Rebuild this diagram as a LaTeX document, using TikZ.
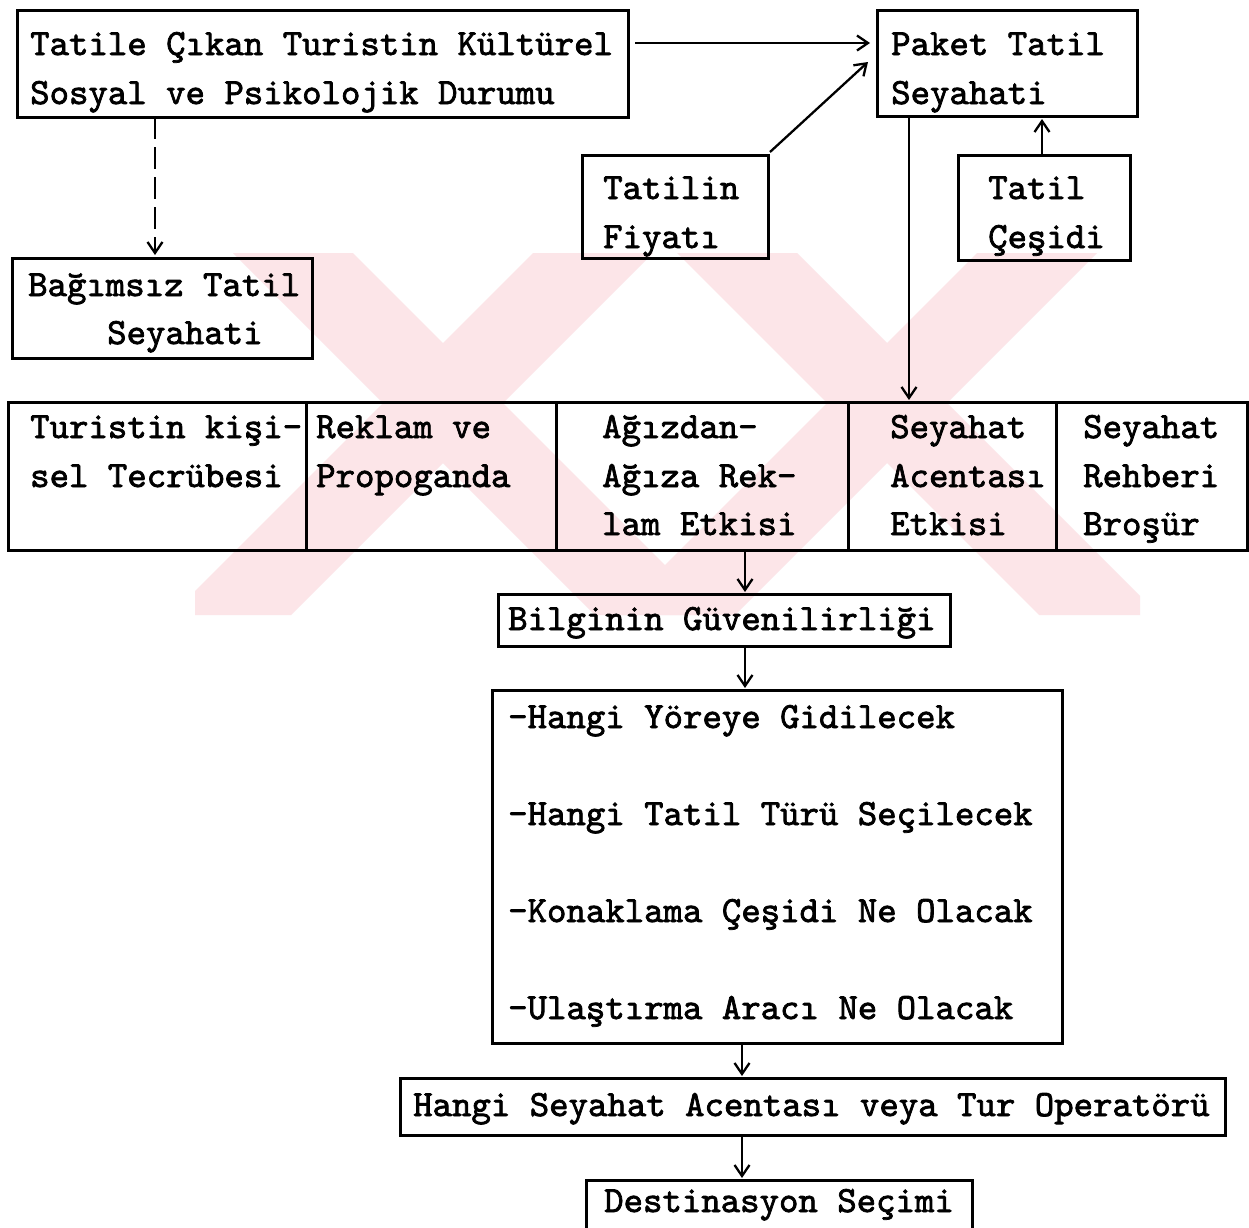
\documentclass[tikz,border=0pt]{standalone}
\usepackage{fontspec}
\newfontfamily\tw{lmmono10-regular.otf}[FakeBold=2]
\usetikzlibrary{arrows.meta}
\definecolor{wmpink}{RGB}{252,229,232}

\begin{document}
\begin{tikzpicture}[x=1pt,y=-1pt,
  box/.style={draw, line width=3pt, inner sep=0pt, outer sep=0pt, anchor=north west},
  txt/.style={anchor=base west, inner sep=0pt, font=\tw\fontsize{37}{48}\selectfont},
  arr/.style={line width=2.3pt, -{Straight Barb[length=11pt,width=15pt,line width=2.3pt]}},
  dashline/.style={arr, dash pattern=on 22pt off 8pt}
]
\clip (0,0) rectangle (1249,1227);
\fill[white] (0,0) rectangle (1249,1227);

% background mark
\begin{scope}
  \clip (195,253) rectangle (1140,615);
  \fill[wmpink] (233,253) -- (353,253) -- (715,615) -- (595,615) -- cycle;
  \fill[wmpink] (533,253) -- (653,253) -- (291,615) -- (171,615) -- cycle;
  \fill[wmpink] (677,253) -- (797,253) -- (1159,615) -- (1039,615) -- cycle;
  \fill[wmpink] (977,253) -- (1097,253) -- (735,615) -- (615,615) -- cycle;
\end{scope}

% boxes
\node[box, minimum width=611pt, minimum height=107pt] (A) at (17,10) {};
\node[box, minimum width=260pt, minimum height=106pt] (B) at (877,10) {};
\node[box, minimum width=186pt, minimum height=103pt] (C) at (582,155) {};
\node[box, minimum width=172pt, minimum height=105pt] (D) at (958,155) {};
\node[box, minimum width=300pt, minimum height=100pt] (E) at (12,258) {};
\node[box, minimum width=298pt, minimum height=148pt] (c1) at (8,402) {};
\node[box, minimum width=250pt, minimum height=148pt] (c2) at (306,402) {};
\node[box, minimum width=292pt, minimum height=148pt] (c3) at (556,402) {};
\node[box, minimum width=208pt, minimum height=148pt] (c4) at (848,402) {};
\node[box, minimum width=191pt, minimum height=148pt] (c5) at (1056,402) {};
\node[box, minimum width=452pt, minimum height=52pt] (F) at (498,594) {};
\node[box, minimum width=570pt, minimum height=353pt] (G) at (492,690) {};
\node[box, minimum width=825pt, minimum height=57pt] (H) at (400,1078) {};
\node[box, minimum width=386pt, minimum height=80pt] (I) at (586,1180) {};

% texts
\node[txt] (a1) at (30,55) {Tatile Çıkan Turistin Kültürel};
\node[txt] (a2) at (30,104) {Sosyal ve Psikolojik Durumu};
\node[txt] (b1) at (891,55) {Paket Tatil};
\node[txt] (b2) at (891,104) {Seyahati};
\node[txt] (t1) at (603,199) {Tatilin};
\node[txt] (t2) at (603,248) {Fiyatı};
\node[txt] (d1) at (988,199) {Tatil};
\node[txt] (d2) at (988,248) {Çeşidi};
\node[txt] (e1) at (28,296) {Bağımsız Tatil};
\node[txt] (e2) at (107,344) {Seyahati};
\node[txt] (r11) at (30,438) {Turistin kişi-};
\node[txt] (r12) at (30,487) {sel Tecrübesi};
\node[txt] (r21) at (316,438) {Reklam ve};
\node[txt] (r22) at (316,487) {Propoganda};
\node[txt] (r31) at (602,438) {Ağızdan-};
\node[txt] (r32) at (602,487) {Ağıza Rek-};
\node[txt] (r33) at (602,535) {lam Etkisi};
\node[txt] (r41) at (890,438) {Seyahat};
\node[txt] (r42) at (890,487) {Acentası};
\node[txt] (r43) at (890,535) {Etkisi};
\node[txt] (r51) at (1083,438) {Seyahat};
\node[txt] (r52) at (1083,487) {Rehberi};
\node[txt] (r53) at (1083,535) {Broşür};
\node[txt] (f1) at (508,630) {Bilginin Güvenilirliği};
\node[txt] (g1) at (508,728) {-Hangi Yöreye Gidilecek};
\node[txt] (g2) at (508,825) {-Hangi Tatil Türü Seçilecek};
\node[txt] (g3) at (508,922) {-Konaklama Çeşidi Ne Olacak};
\node[txt] (g4) at (508,1019) {-Ulaştırma Aracı Ne Olacak};
\node[txt] (h1) at (413,1116) {Hangi Seyahat Acentası veya Tur Operatörü};
\node[txt] (i1) at (604,1212) {Destinasyon Seçimi};

% connectors
\coordinate (xa) at (155,0);
\coordinate (xb) at (909,0);
\coordinate (xd) at (1042,0);
\coordinate (xf) at (745,0);
\coordinate (xh) at (742,0);
\draw[arr] ([xshift=7pt,yshift=-33pt]A.north east) -- ([xshift=-7pt,yshift=-33pt]B.north west);
\draw[arr] ([xshift=2pt,yshift=3pt]C.north east) -- ([xshift=-9pt,yshift=-52pt]B.north west);
\draw[arr] (xd |- D.north) -- ([yshift=-3pt]xd |- B.south);
\draw[dashline] (xa |- A.south) -- ([yshift=3pt]xa |- E.north);
\draw[arr] (xb |- B.south) -- ([yshift=2pt]xb |- c4.north);
\draw[arr] (xf |- c3.south) -- ([yshift=2pt]xf |- F.north);
\draw[arr] (xf |- F.south) -- ([yshift=2pt]xf |- G.north);
\draw[arr] (xh |- G.south) -- ([yshift=2pt]xh |- H.north);
\draw[arr] (xh |- H.south) -- ([yshift=2pt]xh |- I.north);
\end{tikzpicture}
\end{document}
